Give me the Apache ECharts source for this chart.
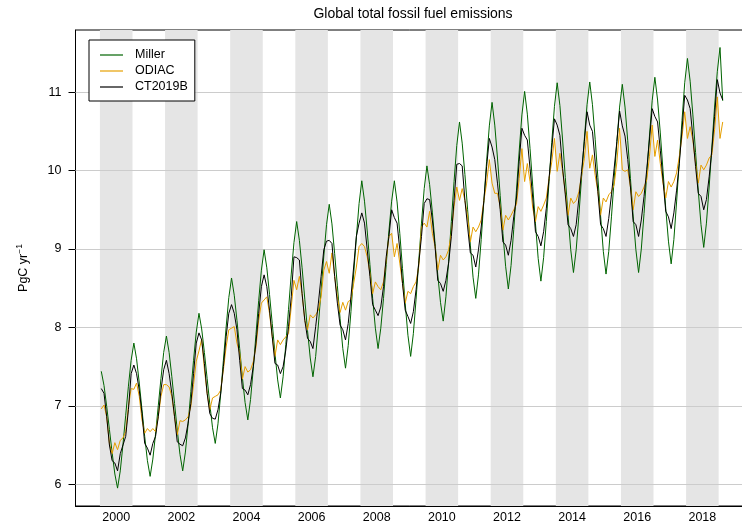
<!DOCTYPE html>
<html><head><meta charset="utf-8">
<script src="https://cdn.jsdelivr.net/npm/echarts@6/dist/echarts.min.js"></script>
<style>html,body{margin:0;padding:0;background:#fff}#c{width:742px;height:523px}</style>
</head><body><div id="c"></div>
<script>
const startYear = 2000;
const tickYears = [2000, 2002, 2004, 2006, 2008, 2010, 2012, 2014, 2016, 2018];
const bandYears = [2000, 2002, 2004, 2006, 2008, 2010, 2012, 2014, 2016, 2018];
const yTicks = [6, 7, 8, 9, 10, 11];
const seriesNames = ['Miller', 'ODIAC', 'CT2019B'];

const miller = [
  7.44,7.26,6.99,6.70,6.40,6.13,5.95,6.17,6.51,6.88,7.25,7.58,
  7.80,7.60,7.29,6.95,6.61,6.30,6.10,6.32,6.64,7.00,7.35,7.68,
  7.89,7.68,7.37,7.03,6.69,6.38,6.17,6.41,6.77,7.18,7.58,7.94,
  8.18,7.98,7.68,7.35,7.02,6.72,6.52,6.77,7.15,7.58,8.00,8.38,
  8.63,8.41,8.09,7.73,7.36,7.04,6.82,7.08,7.47,7.91,8.34,8.73,
  8.99,8.76,8.42,8.05,7.67,7.33,7.10,7.37,7.78,8.23,8.68,9.08,
  9.35,9.11,8.76,8.36,7.96,7.61,7.37,7.63,8.03,8.47,8.91,9.31,
  9.57,9.32,8.94,8.53,8.11,7.73,7.48,7.77,8.20,8.68,9.15,9.58,
  9.87,9.61,9.23,8.80,8.37,7.99,7.73,7.99,8.37,8.80,9.23,9.61,
  9.87,9.60,9.20,8.75,8.30,7.90,7.63,7.92,8.36,8.85,9.33,9.77,
  10.06,9.82,9.47,9.07,8.67,8.32,8.08,8.39,8.84,9.35,9.86,10.32,
  10.62,10.35,9.95,9.50,9.05,8.64,8.37,8.67,9.12,9.62,10.12,10.57,
  10.87,10.58,10.16,9.68,9.20,8.78,8.49,8.79,9.25,9.75,10.25,10.71,
  11.01,10.72,10.28,9.80,9.32,8.88,8.59,8.89,9.35,9.86,10.36,10.82,
  11.12,10.83,10.39,9.91,9.43,8.99,8.70,8.99,9.43,9.92,10.40,10.84,
  11.13,10.84,10.40,9.91,9.42,8.97,8.68,8.97,9.41,9.89,10.37,10.81,
  11.10,10.81,10.38,9.90,9.42,8.99,8.70,9.00,9.45,9.95,10.44,10.89,
  11.19,10.90,10.48,10.00,9.52,9.10,8.81,9.12,9.60,10.12,10.64,11.12,
  11.43,11.14,10.71,10.23,9.74,9.31,9.02,9.33,9.79,10.30,10.81,11.26,
  11.57,10.89
];

const odiac = [
  6.96,7.01,6.86,6.52,6.39,6.53,6.44,6.56,6.59,6.67,6.99,7.22,
  7.21,7.29,7.12,6.82,6.65,6.71,6.67,6.71,6.67,6.86,7.12,7.27,
  7.27,7.24,7.12,6.86,6.63,6.81,6.80,6.82,6.86,6.99,7.27,7.57,
  7.70,7.85,7.47,7.16,6.95,7.10,7.12,7.14,7.20,7.46,7.75,7.97,
  7.99,8.01,7.80,7.67,7.34,7.50,7.43,7.46,7.56,7.75,8.09,8.31,
  8.35,8.39,8.18,7.88,7.63,7.84,7.78,7.84,7.88,7.92,8.26,8.60,
  8.48,8.65,8.43,8.09,7.97,8.16,8.12,8.16,8.22,8.39,8.73,8.84,
  8.69,8.95,8.65,8.39,8.19,8.32,8.22,8.33,8.35,8.56,8.77,9.03,
  9.07,9.03,8.90,8.69,8.43,8.58,8.52,8.48,8.58,8.86,9.16,9.20,
  8.90,9.07,8.82,8.56,8.31,8.46,8.43,8.52,8.58,8.78,9.28,9.33,
  9.28,9.48,9.20,9.03,8.73,8.92,8.86,8.90,8.99,9.20,9.54,9.79,
  9.62,9.77,9.62,9.41,9.09,9.28,9.22,9.28,9.37,9.62,9.84,10.14,
  9.84,9.71,9.71,9.54,9.24,9.43,9.37,9.43,9.50,9.57,9.90,10.28,
  9.86,10.09,9.86,9.52,9.35,9.54,9.48,9.56,9.65,9.90,10.11,10.41,
  9.99,10.22,9.99,9.73,9.43,9.65,9.58,9.62,9.73,9.94,10.15,10.50,
  10.03,10.20,9.94,9.73,9.43,9.65,9.60,9.69,9.73,9.82,10.11,10.54,
  10.01,9.99,10.01,9.79,9.50,9.73,9.67,9.71,9.79,9.88,10.18,10.58,
  10.18,10.39,10.09,9.84,9.65,9.86,9.79,9.86,9.97,10.18,10.43,10.75,
  10.41,10.56,10.39,10.09,9.84,10.07,10.01,10.07,10.16,10.20,10.52,10.94,
  10.41,10.62
];

const ct2019b = [
  7.22,7.16,6.86,6.50,6.30,6.27,6.17,6.39,6.50,6.61,6.95,7.41,
  7.52,7.41,7.20,6.90,6.52,6.46,6.37,6.52,6.61,6.86,7.20,7.46,
  7.58,7.41,7.16,6.86,6.54,6.51,6.49,6.59,6.78,7.03,7.41,7.80,
  7.93,7.84,7.54,7.16,6.90,6.84,6.83,6.95,7.16,7.50,7.88,8.18,
  8.29,8.18,7.97,7.58,7.22,7.20,7.14,7.27,7.50,7.80,8.18,8.52,
  8.67,8.52,8.22,7.88,7.54,7.52,7.41,7.50,7.71,8.01,8.39,8.90,
  8.89,8.86,8.43,8.09,7.86,7.82,7.73,8.01,8.31,8.65,8.99,9.10,
  9.11,9.07,8.65,8.31,8.03,7.97,7.84,8.05,8.39,8.77,9.16,9.33,
  9.46,9.33,8.99,8.65,8.29,8.22,8.15,8.26,8.52,8.90,9.16,9.50,
  9.40,9.33,8.99,8.56,8.22,8.14,8.05,8.20,8.48,8.82,9.16,9.58,
  9.64,9.63,9.37,9.03,8.60,8.56,8.46,8.60,8.82,9.16,9.62,10.08,
  10.09,10.06,9.62,9.28,8.95,8.92,8.77,8.99,9.28,9.62,10.05,10.41,
  10.30,10.14,9.84,9.50,9.09,9.05,8.92,9.11,9.41,9.65,10.12,10.54,
  10.45,10.39,10.03,9.65,9.22,9.16,9.04,9.22,9.52,9.90,10.28,10.66,
  10.58,10.45,10.03,9.69,9.31,9.26,9.16,9.31,9.65,9.99,10.37,10.75,
  10.58,10.50,10.11,9.73,9.31,9.26,9.16,9.39,9.69,10.03,10.37,10.76,
  10.57,10.44,10.14,9.79,9.35,9.31,9.16,9.37,9.67,10.01,10.39,10.79,
  10.69,10.62,10.26,9.88,9.48,9.41,9.26,9.46,9.75,10.09,10.52,10.96,
  10.90,10.79,10.43,10.05,9.71,9.67,9.50,9.63,9.92,10.26,10.69,11.16,
  10.99,10.90
];

const FONT = '"Liberation Sans", Arial, Helvetica, sans-serif';
function toPairs(arr) { return arr.map((v, i) => [startYear + (i + 0.5) / 12, v]); }

const chart = echarts.init(document.getElementById('c'), null, { renderer: 'canvas' });
const lineBase = { type: 'line', symbol: 'none', showSymbol: false, smooth: false, z: 3, silent: true };
const lineColors = { 'Miller': '#006400', 'ODIAC': '#E69F00', 'CT2019B': '#000000' };

chart.setOption({
  animation: false,
  backgroundColor: '#ffffff',
  textStyle: { fontFamily: FONT },
  title: {
    text: 'Global total fossil fuel emissions',
    left: 413, top: 7, padding: 0, textAlign: 'center',
    textStyle: { fontSize: 14, fontWeight: 'normal', color: '#000', fontFamily: FONT }
  },
  grid: {
    left: 75.5, width: 670.5, top: 30, height: 476,
    containLabel: false, outerBoundsMode: 'none',
    show: true, borderColor: '#000', borderWidth: 1, backgroundColor: 'transparent'
  },
  legend: {
    data: seriesNames.map(n => ({ name: n, icon: 'rect', itemStyle: { color: lineColors[n] } })),
    orient: 'vertical', left: 89, top: 40,
    padding: [8, 7, 7, 11], itemWidth: 23, itemHeight: 1.2, itemGap: 2,
    borderColor: '#000', borderWidth: 1, borderRadius: 0, backgroundColor: '#fff',
    textStyle: { fontSize: 12.5, lineHeight: 14, color: '#000', fontFamily: FONT, padding: [0, 0, 0, 7] },
    z: 10
  },
  xAxis: {
    type: 'value', min: 1999.25, max: 2019.84,
    splitLine: { show: false },
    axisLine: { show: true, lineStyle: { color: '#000', width: 1 } },
    axisTick: { show: false },
    axisLabel: {
      customValues: tickYears.map(y => y + 0.5),
      formatter: v => String(Math.floor(v)),
      margin: 5, fontSize: 12.5, color: '#000', fontFamily: FONT
    }
  },
  yAxis: {
    type: 'value', min: 5.722, max: 11.793,
    splitLine: { show: false },
    axisLine: { show: true, lineStyle: { color: '#000', width: 1 } },
    axisTick: { show: true, length: 7, customValues: yTicks, lineStyle: { color: '#000' } },
    axisLabel: { customValues: yTicks, margin: 14, fontSize: 12.5, color: '#000', fontFamily: FONT },
    name: '{a|PgC yr}{b|\u22121}',
    nameLocation: 'middle', nameRotate: 90, nameGap: 44,
    nameTextStyle: {
      color: '#000', fontFamily: FONT,
      rich: {
        a: { fontSize: 12.5, color: '#000', fontFamily: FONT, lineHeight: 16 },
        b: { fontSize: 8.5, color: '#000', fontFamily: FONT, verticalAlign: 'top', lineHeight: 16 }
      }
    }
  },
  series: [
    Object.assign({}, lineBase, {
      name: 'Miller', data: toPairs(miller),
      lineStyle: { color: lineColors['Miller'], width: 1 }, itemStyle: { color: lineColors['Miller'] },
      markArea: {
        silent: true, z: 1,
        itemStyle: { color: '#e5e5e5', borderWidth: 0 },
        data: bandYears.map(y => [{ xAxis: y }, { xAxis: y + 1 }])
      },
      markLine: {
        silent: true, z: 2, symbol: ['none', 'none'],
        label: { show: false },
        lineStyle: { color: '#cccccc', width: 1.2, type: 'solid' },
        emphasis: { disabled: true },
        data: yTicks.map(v => ({ yAxis: v }))
      }
    }),
    Object.assign({}, lineBase, {
      name: 'ODIAC', data: toPairs(odiac),
      lineStyle: { color: lineColors['ODIAC'], width: 1 }, itemStyle: { color: lineColors['ODIAC'] }
    }),
    Object.assign({}, lineBase, {
      name: 'CT2019B', data: toPairs(ct2019b),
      lineStyle: { color: lineColors['CT2019B'], width: 1 }, itemStyle: { color: lineColors['CT2019B'] }
    })
  ]
});
</script>
</body></html>
